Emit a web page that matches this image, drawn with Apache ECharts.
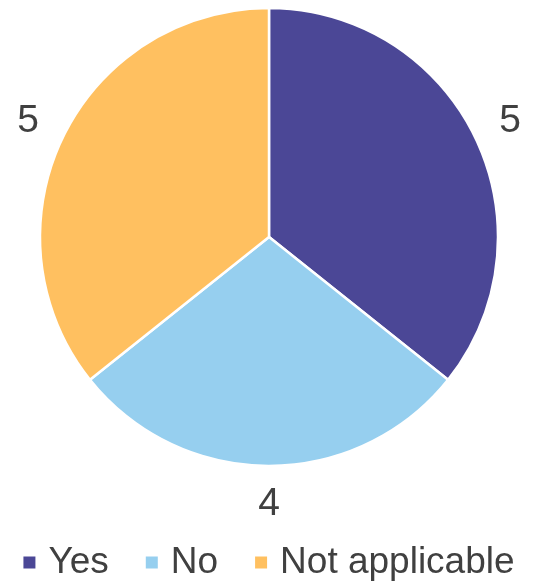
<!DOCTYPE html>
<html>
<head>
<meta charset="utf-8">
<script src="https://cdn.jsdelivr.net/npm/echarts@6/dist/echarts.min.js"></script>
<style>
  html, body { margin: 0; padding: 0; background: #fff; }
  #chart { width: 536px; height: 583px; }
</style>
</head>
<body>
<div id="chart"></div>
<script>
const categories = ['Yes', 'No', 'Not applicable'];
const values = [5, 4, 5];
const colors = ['#4B4796', '#96CFEF', '#FFC060'];

const FONT = '"Liberation Sans", Arial, sans-serif';
const TEXT_COLOR = '#404040';

const pieData = categories.map((name, i) => ({
  name,
  value: values[i],
  itemStyle: { color: colors[i] },
}));

const chart = echarts.init(document.getElementById('chart'), null, { renderer: 'canvas' });

chart.setOption({
  animation: false,
  legend: {
    top: 539,
    left: 'center',
    icon: 'rect',
    itemWidth: 14,
    itemHeight: 14,
    itemGap: 35,
    data: categories,
    textStyle: {
      fontFamily: FONT,
      fontSize: 37,
      color: TEXT_COLOR,
      padding: [0, 0, 0, 7],
    },
  },
  series: [
    {
      type: 'pie',
      center: [269, 237],
      radius: [0, 229],
      startAngle: 90,
      clockwise: true,
      label: { show: false },
      labelLine: { show: false },
      itemStyle: { borderColor: '#fff', borderWidth: 2.5 },
      emphasis: { disabled: true },
      data: pieData,
    },
    // transparent ring only used to place the value labels just outside the pie
    {
      type: 'pie',
      center: [269, 237],
      radius: [229, 300],
      startAngle: 90,
      clockwise: true,
      silent: true,
      itemStyle: { color: 'rgba(0,0,0,0)' },
      label: {
        show: true,
        position: 'inside',
        formatter: '{c}',
        fontFamily: FONT,
        fontSize: 39,
        color: TEXT_COLOR,
      },
      labelLine: { show: false },
      emphasis: { disabled: true },
      data: categories.map((name, i) => ({ name, value: values[i] })),
    },
  ],
});
</script>
</body>
</html>
